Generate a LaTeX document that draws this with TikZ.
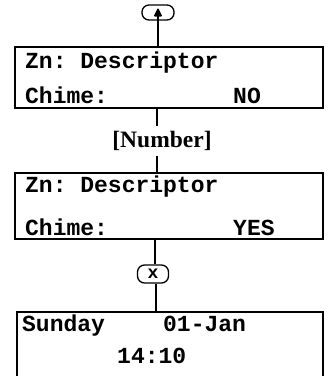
\documentclass[tikz,border=0pt]{standalone}
\usepackage{fontspec}
\setmainfont{Liberation Serif}
\setmonofont{Liberation Mono}
\usepackage{tikz}
\usetikzlibrary{arrows.meta,calc}

\begin{document}
\begin{tikzpicture}[
    x=1pt,
    y=1pt,
    >=Stealth,
    screen/.style={draw=black,line width=1.3pt,rectangle,minimum width=308pt,inner sep=0pt},
    lcd/.style={anchor=base west,inner sep=0pt,font=\fontsize{23}{27}\selectfont\ttfamily\bfseries},
    keycap/.style={draw=black,line width=1.3pt,rectangle,rounded corners=7pt,
                   minimum width=32pt,minimum height=15pt,inner sep=0pt},
    wire/.style={draw=black,line width=1.3pt}
]

\clip (0,0) rectangle (329,-376);

% keys
\node[keycap] (kup) at (158,-12.5) {};
\fill[rounded corners=1.2pt] (153.5,-16.5) -- (158,-7.5) -- (162.5,-16.5) -- cycle;
\draw[line width=1.3pt] (158,-16) -- (kup.south);
\node[keycap,minimum width=31pt,minimum height=18pt,
      font=\fontsize{18}{18}\selectfont\ttfamily\bfseries] (kx) at (153,-274) {x};

% screens
\node[screen,minimum height=61pt] (s1) at (169,-77.5) {};
\node[screen,minimum height=66pt] (s2) at (169,-206) {};
\node[screen,minimum width=306pt,minimum height=78pt] (s3) at (170,-351) {};

\node[lcd] (s1a) at (25,-68) {Zn: Descriptor};
\node[lcd] (s1b) at (25,-103) {Chime:};
\node[lcd] (s1c) at (233,-103) {NO};

\node[lcd] (s2a) at (25,-192) {Zn: Descriptor};
\node[lcd] (s2b) at (25,-235) {Chime:};
\node[lcd] (s2c) at (233,-235) {YES};

\node[lcd] (s3a) at (22,-331) {Sunday};
\node[lcd] (s3b) at (163,-331) {01-Jan};
\node[lcd] (s3c) at (117,-363) {14:10};

% step label
\node[font=\fontsize{23.5}{24}\selectfont\bfseries,inner sep=0pt,minimum height=29pt] (num) at (162,-141) {[Number]};

% connectors
\coordinate (ax) at (157,0);
\draw[wire] (kup.south) -- (kup.south |- s1.north);
\draw[wire] (ax |- s1.south) -- (ax |- num.north);
\draw[wire] (ax |- num.south) -- (ax |- s2.north);
\draw[wire] (155,0 |- s2.south) -- (155,0 |- kx.north);
\draw[wire] (156,0 |- kx.south) -- (156,0 |- s3.north);

\end{tikzpicture}
\end{document}
